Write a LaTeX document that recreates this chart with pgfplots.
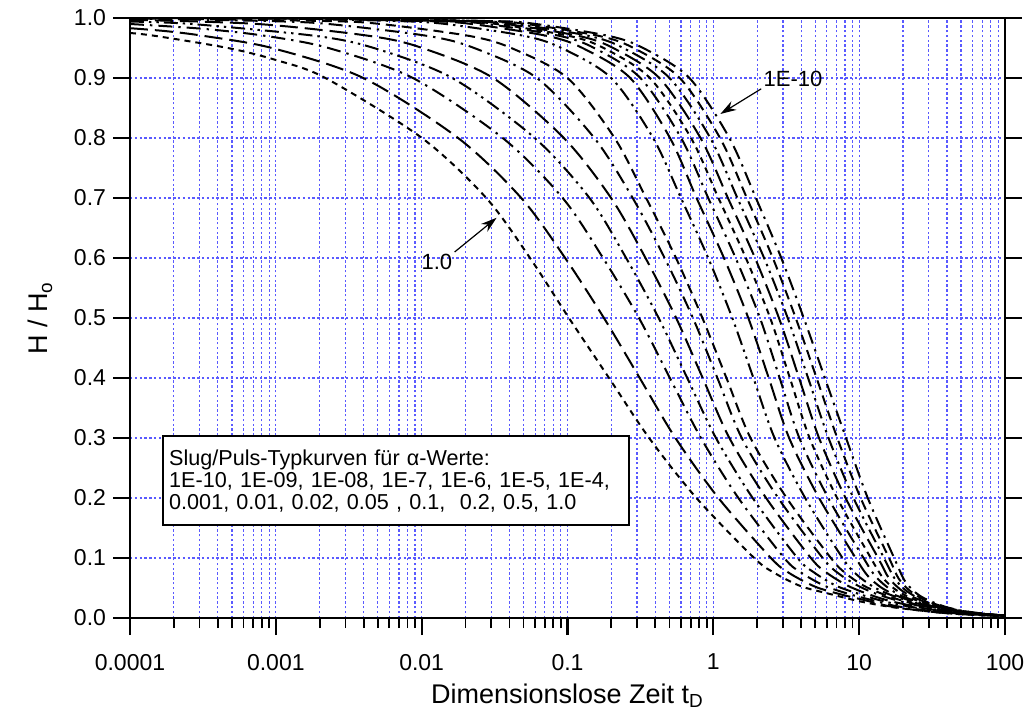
\documentclass[border=0pt]{standalone}
\usepackage{fontspec}
\setmainfont{Liberation Sans}
\usepackage{pgfplots}
\pgfplotsset{compat=1.18}
\usepackage{pgfplotstable}
\usetikzlibrary{arrows.meta}

\definecolor{gridblue}{RGB}{90,90,255}

% columns: lx = log10(t_D), H = H/H0
\pgfplotstableread{
lx H
-4 0.975
-3.822 0.97
-3.329 0.95
-3.0 0.930
-2.66 0.9
-1.998 0.8
-1.557 0.7
-1.257 0.6
-0.99 0.5
-0.715 0.4
-0.44 0.3
-0.116 0.2
0.28 0.1
0.42 0.075
0.6 0.053
0.8 0.04
1.0 0.028
1.2 0.019
1.4 0.013
1.6 0.008
1.8 0.005
2.0 0.003
}\cA
\pgfplotstableread{
lx H
-4 0.983
-3.75 0.978
-3.49 0.97
-3.027 0.95
-2.40 0.9
-1.75 0.8
-1.317 0.7
-1.016 0.6
-0.75 0.5
-0.505 0.4
-0.26 0.3
0.035 0.2
0.395 0.1
0.52 0.075
0.7 0.052
0.88 0.039
1.05 0.029
1.2 0.02
1.4 0.013
1.6 0.008
1.8 0.005
2.0 0.003
}\cB
\pgfplotstableread{
lx H
-4 0.990
-3.5 0.982
-3.066 0.97
-2.639 0.95
-2.06 0.9
-1.444 0.8
-1.033 0.7
-0.756 0.6
-0.51 0.5
-0.298 0.4
-0.085 0.3
0.172 0.2
0.486 0.1
0.6 0.076
0.76 0.054
0.93 0.04
1.1 0.029
1.25 0.02
1.45 0.013
1.65 0.008
1.85 0.005
2.0 0.003
}\cC
\pgfplotstableread{
lx H
-4 0.994
-3.576 0.99
-2.724 0.97
-2.328 0.95
-1.79 0.9
-1.225 0.8
-0.849 0.7
-0.598 0.6
-0.375 0.5
-0.179 0.4
0.018 0.3
0.27 0.2
0.577 0.1
0.69 0.076
0.84 0.054
1.0 0.04
1.15 0.029
1.3 0.021
1.5 0.013
1.7 0.008
2.0 0.004
}\cD
\pgfplotstableread{
lx H
-4 0.997
-3.123 0.99
-2.354 0.97
-1.996 0.95
-1.51 0.9
-1.025 0.8
-0.701 0.7
-0.465 0.6
-0.255 0.5
-0.073 0.4
0.11 0.3
0.362 0.2
0.669 0.1
0.78 0.075
0.92 0.054
1.06 0.04
1.2 0.029
1.35 0.021
1.5 0.014
1.7 0.008
2.0 0.004
}\cE
\pgfplotstableread{
lx H
-4 0.999
-3.069 0.995
-2.639 0.99
-1.957 0.97
-1.64 0.95
-1.21 0.9
-0.816 0.8
-0.553 0.7
-0.334 0.6
-0.14 0.5
0.028 0.4
0.195 0.3
0.445 0.2
0.75 0.1
0.86 0.074
0.99 0.054
1.12 0.04
1.25 0.03
1.4 0.021
1.55 0.014
1.75 0.008
2.0 0.004
}\cF
\pgfplotstableread{
lx H
-4 0.9995
-2.668 0.995
-2.282 0.99
-1.671 0.97
-1.386 0.95
-1.0 0.9
-0.677 0.8
-0.461 0.7
-0.256 0.6
-0.075 0.5
0.09 0.4
0.255 0.3
0.503 0.2
0.806 0.1
0.91 0.074
1.03 0.054
1.15 0.041
1.28 0.03
1.42 0.021
1.57 0.014
1.77 0.008
2.0 0.004
}\cG
\pgfplotstableread{
lx H
-4 1.0
-3.0 0.999
-2.178 0.995
-1.836 0.99
-1.294 0.97
-1.042 0.95
-0.70 0.9
-0.413 0.8
-0.222 0.7
-0.035 0.6
0.13 0.5
0.275 0.4
0.42 0.3
0.63 0.2
0.886 0.1
0.98 0.073
1.09 0.053
1.2 0.04
1.32 0.03
1.45 0.021
1.6 0.014
1.78 0.008
2.0 0.004
}\cH
\pgfplotstableread{
lx H
-4 1.0
-3.0 0.9994
-1.984 0.995
-1.657 0.99
-1.138 0.97
-0.897 0.95
-0.57 0.9
-0.297 0.8
-0.115 0.7
0.073 0.6
0.24 0.5
0.38 0.4
0.52 0.3
0.725 0.2
0.976 0.1
1.06 0.07
1.15 0.051
1.25 0.038
1.36 0.028
1.48 0.02
1.62 0.013
1.8 0.008
2.0 0.004
}\cI
\pgfplotstableread{
lx H
-4 1.0
-3.0 0.9997
-1.869 0.995
-1.553 0.99
-1.051 0.97
-0.817 0.95
-0.5 0.9
-0.221 0.8
-0.035 0.7
0.153 0.6
0.32 0.5
0.455 0.4
0.59 0.3
0.788 0.2
1.03 0.1
1.11 0.07
1.2 0.05
1.29 0.037
1.39 0.028
1.5 0.02
1.64 0.013
1.8 0.008
2.0 0.004
}\cJ
\pgfplotstableread{
lx H
-4 1.0
-3.0 0.9997
-1.804 0.995
-1.488 0.99
-0.986 0.97
-0.752 0.95
-0.435 0.9
-0.153 0.8
0.035 0.7
0.223 0.6
0.39 0.5
0.525 0.4
0.66 0.3
0.849 0.2
1.08 0.1
1.16 0.068
1.24 0.049
1.33 0.036
1.42 0.027
1.53 0.019
1.66 0.013
1.82 0.008
2.0 0.004
}\cK
\pgfplotstableread{
lx H
-4 1.0
-3.0 0.9998
-1.739 0.995
-1.423 0.99
-0.921 0.97
-0.687 0.95
-0.37 0.9
-0.088 0.8
0.10 0.7
0.286 0.6
0.45 0.5
0.588 0.4
0.725 0.3
0.907 0.2
1.13 0.1
1.2 0.068
1.28 0.048
1.36 0.036
1.45 0.027
1.55 0.019
1.68 0.012
1.83 0.007
2.0 0.004
}\cL
\pgfplotstableread{
lx H
-4 1.0
-3.0 0.9998
-1.669 0.995
-1.353 0.99
-0.851 0.97
-0.617 0.95
-0.30 0.9
-0.021 0.8
0.165 0.7
0.348 0.6
0.51 0.5
0.65 0.4
0.79 0.3
0.961 0.2
1.17 0.1
1.24 0.067
1.31 0.048
1.39 0.035
1.47 0.026
1.57 0.018
1.69 0.012
1.84 0.007
2.0 0.004
}\cM
\pgfplotstableread{
lx H
-4 1.0
-3.0 0.9998
-1.599 0.995
-1.283 0.99
-0.781 0.97
-0.547 0.95
-0.23 0.9
0.046 0.8
0.23 0.7
0.408 0.6
0.565 0.5
0.708 0.4
0.85 0.3
1.01 0.2
1.205 0.1
1.27 0.066
1.34 0.047
1.41 0.035
1.49 0.026
1.59 0.018
1.7 0.012
1.85 0.007
2.0 0.004
}\cN
\pgfplotstableread{
lx H
-4 1.0
-3.0 0.9998
-1.533 0.995
-1.217 0.99
-0.715 0.97
-0.481 0.95
-0.164 0.9
0.11 0.8
0.292 0.7
0.466 0.6
0.62 0.5
0.765 0.4
0.91 0.3
1.059 0.2
1.24 0.1
1.31 0.063
1.37 0.046
1.43 0.035
1.51 0.026
1.6 0.018
1.71 0.012
1.86 0.007
2.0 0.004
}\cO

\tikzset{
  sA/.style={black, line width=1pt, dash pattern=on 3pt off 2.5pt},
  sB/.style={black, line width=1pt, dash pattern=on 9pt off 3.5pt},
  sC/.style={black, line width=1pt, dash pattern=on 7pt off 3pt on 1.2pt off 3pt},
  sD/.style={black, line width=1pt, dash pattern=on 7pt off 2.5pt on 1.2pt off 2.5pt on 1.2pt off 2.5pt},
  sE/.style={black, line width=1pt, dash pattern=on 5pt off 3pt},
}

\begin{document}
\begin{tikzpicture}
\useasboundingbox (-65pt,-47pt) rectangle (449pt,309pt);
\begin{semilogxaxis}[
  at={(0,0)}, anchor=south west,
  scale only axis, width=437.5pt, height=300pt,
  xmin=1e-4, xmax=100, ymin=0, ymax=1,
  xtick={1e-4,1e-3,1e-2,1e-1,1,10,100},
  xticklabels={0.0001,0.001,0.01,0.1,1,10,100},
  minor xtick={2e-4,3e-4,4e-4,5e-4,6e-4,7e-4,8e-4,9e-4,
    2e-3,3e-3,4e-3,5e-3,6e-3,7e-3,8e-3,9e-3,
    0.02,0.03,0.04,0.05,0.06,0.07,0.08,0.09,
    0.2,0.3,0.4,0.5,0.6,0.7,0.8,0.9,
    2,3,4,5,6,7,8,9,20,30,40,50,60,70,80,90},
  ytick={0,0.1,0.2,0.3,0.4,0.5,0.6,0.7,0.8,0.9,1.0},
  yticklabels={0.0,0.1,0.2,0.3,0.4,0.5,0.6,0.7,0.8,0.9,1.0},
  xtick pos=left, ytick pos=both, yticklabel pos=left,
  tick align=outside,
  major tick length=8.5pt, minor tick length=5pt,
  major tick style={black, line width=1.1pt},
  minor tick style={black, line width=0.9pt},
  xmajorgrids, xminorgrids, ymajorgrids,
  major grid style={gridblue, dash pattern=on 1.2pt off 1.2pt, line width=0.6pt},
  minor grid style={gridblue, dash pattern=on 1.2pt off 1.2pt, line width=0.6pt},
  axis line style={line width=1.3pt},
  /pgf/number format/assume math mode=true,
  tick label style={font=\fontsize{11.5}{13}\selectfont},
  xticklabel style={yshift=-6pt},
  label style={font=\fontsize{13.5}{15}\selectfont},
  xlabel={Dimensionslose Zeit t\textsubscript{D}},
  ylabel={H / H\textsubscript{o}},
  ylabel shift=4pt,
]
\addplot[sA, smooth] table[x expr={10^(\thisrow{lx})}, y=H] {\cA};
\addplot[sB, smooth] table[x expr={10^(\thisrow{lx})}, y=H] {\cB};
\addplot[sC, smooth] table[x expr={10^(\thisrow{lx})}, y=H] {\cC};
\addplot[sD, smooth] table[x expr={10^(\thisrow{lx})}, y=H] {\cD};
\addplot[sB, smooth] table[x expr={10^(\thisrow{lx})}, y=H] {\cE};
\addplot[sC, smooth] table[x expr={10^(\thisrow{lx})}, y=H] {\cF};
\addplot[sE, smooth] table[x expr={10^(\thisrow{lx})}, y=H] {\cG};
\addplot[sD, smooth] table[x expr={10^(\thisrow{lx})}, y=H] {\cH};
\addplot[sB, smooth] table[x expr={10^(\thisrow{lx})}, y=H] {\cI};
\addplot[sC, smooth] table[x expr={10^(\thisrow{lx})}, y=H] {\cJ};
\addplot[sA, smooth] table[x expr={10^(\thisrow{lx})}, y=H] {\cK};
\addplot[sB, smooth] table[x expr={10^(\thisrow{lx})}, y=H] {\cL};
\addplot[sD, smooth] table[x expr={10^(\thisrow{lx})}, y=H] {\cM};
\addplot[sE, smooth] table[x expr={10^(\thisrow{lx})}, y=H] {\cN};
\addplot[sC, smooth] table[x expr={10^(\thisrow{lx})}, y=H] {\cO};

\draw[line width=0.6pt, -{Stealth[length=8pt,width=5pt]}] (axis cs:0.01683,0.61) -- (axis cs:0.03266,0.667);
\node[anchor=north east, inner sep=1pt, font=\fontsize{11}{13}\selectfont] at (axis cs:0.01683,0.61) {1.0};
\draw[line width=0.6pt, -{Stealth[length=8pt,width=5pt]}] (axis cs:2.13,0.882) -- (axis cs:1.117,0.84);
\node[anchor=south west, inner sep=1pt, font=\fontsize{11}{13}\selectfont] at (axis cs:2.13,0.882) {1E-10};

\node[draw, line width=1.2pt, fill=white, anchor=north west, inner xsep=3pt, inner ysep=4pt,
  text width=227pt, minimum height=44.5pt, align=left,
  font=\fontsize{10.8}{11}\selectfont] at (rel axis cs:0.0366,0.305)
  {Slug/Puls-Typkurven für α-Werte:\\
   1E-10, 1E-09, 1E-08, 1E-7, 1E-6, 1E-5, 1E-4,\\
   0.001, 0.01, 0.02, 0.05 , 0.1,\ \ 0.2, 0.5, 1.0};
\end{semilogxaxis}
\end{tikzpicture}
\end{document}
